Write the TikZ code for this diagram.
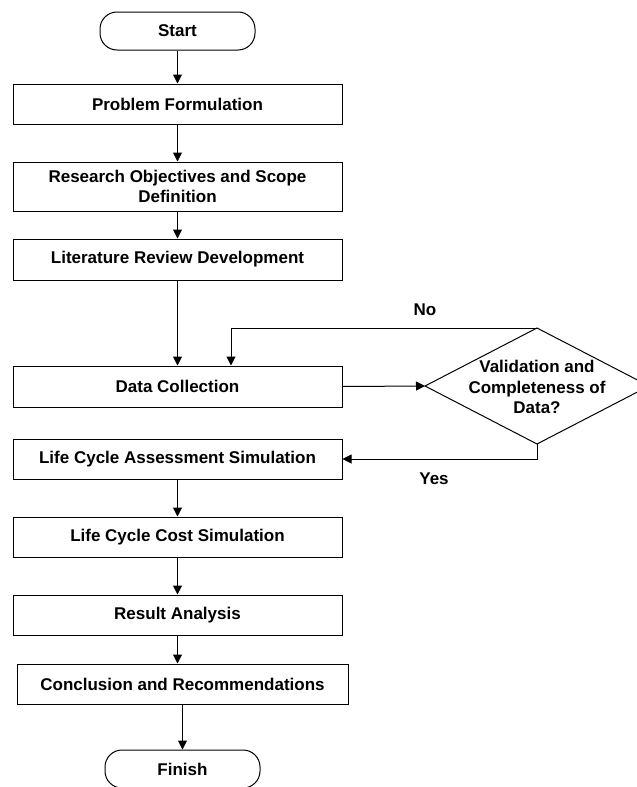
\documentclass[tikz,border=0pt]{standalone}
\usepackage{fontspec}
\setmainfont{Liberation Sans}
\usetikzlibrary{arrows.meta}
\begin{document}
\begin{tikzpicture}[x=1pt,y=-1pt,
  txt/.style={font={\fontsize{17}{19.5}\selectfont\bfseries}},
  box/.style={txt,draw,line width=1pt,minimum width=329pt,minimum height=40pt,inner sep=0pt,align=center},
  term/.style={txt,draw,line width=1pt,rounded corners=17pt,minimum width=155pt,minimum height=38pt,inner sep=0pt},
  arr/.style={-{Triangle[length=9pt,width=9pt]},line width=1pt}]
\useasboundingbox (0,0) rectangle (637,787);
\clip (0,0) rectangle (637,787);
\node[term] (start) at (177.5,31) {Start};
\node[box] (pf) at (177.5,104) {Problem Formulation};
\node[box,minimum height=49pt] (ro) at (177.5,186.5) {Research Objectives and Scope\\Definition};
\node[box,minimum height=41pt] (lit) at (177.5,259.5) {Literature Review Development};
\node[box,minimum height=41pt] (dc) at (177.5,386.5) {Data Collection};
\node[box] (lca) at (177.5,459) {Life Cycle Assessment Simulation};
\node[box] (lcc) at (177.5,537) {Life Cycle Cost Simulation};
\node[box] (ra) at (177.5,615) {Result Analysis};
\node[box,minimum width=331pt] (cr) at (182.5,684) {Conclusion and Recommendations};
\node[term] (fin) at (182.5,769) {Finish};
% decision
\coordinate (dt) at (537,328);
\coordinate (dl) at (425,386);
\coordinate (db) at (537,444);
\coordinate (dr) at (649,386);
\draw[line width=1pt] (dt) -- (dr) -- (db) -- (dl) -- cycle;
\node[txt,align=center,font={\fontsize{17}{20.5}\selectfont\bfseries}] (dtext) at (537,387) {Validation and\\Completeness of\\Data?};
\node[txt] (no) at (425,310) {No};
\node[txt] (yes) at (434,479) {Yes};
% connectors
\draw[arr] (start) -- (pf);
\draw[arr] (pf) -- (ro);
\draw[arr] (ro) -- (lit);
\draw[arr] (lit) -- (dc);
\draw[arr] (dc.east) -- (dl);
\draw[arr] (dt) -| ([xshift=53.5pt]dc.north);
\draw[arr] (db) |- (lca.east);
\draw[arr] (lca) -- (lcc);
\draw[arr] (lcc) -- (ra);
\draw[arr] (ra.south) -- (ra.south |- cr.north);
\draw[arr] (cr) -- (fin);
\end{tikzpicture}
\end{document}
